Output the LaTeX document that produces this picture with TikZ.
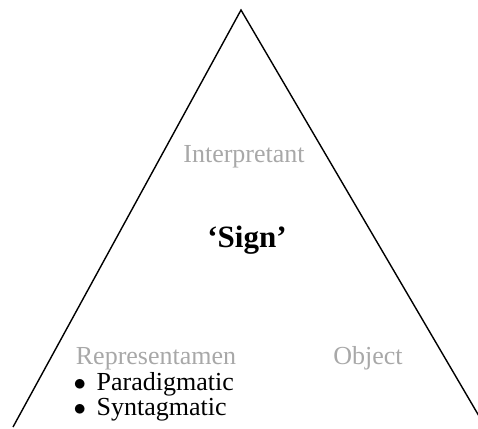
\documentclass[tikz,border=0pt]{standalone}
\usepackage{fontspec}
\setmainfont{Liberation Serif}
\usepackage{tikz}
\definecolor{roleink}{RGB}{168,168,168}
\tikzset{
  role/.style={text=roleink, font=\fontsize{26}{30}\selectfont, inner sep=0pt, anchor=base},
  item/.style={font=\fontsize{26}{30}\selectfont, inner sep=0pt, anchor=base west},
}

\begin{document}
\begin{tikzpicture}[x=1pt, y=-1pt]
  \useasboundingbox (0,0) rectangle (478,428);
  \clip (0,0) rectangle (478,428);
  % triangle
  \coordinate (apex) at (241,10);
  \coordinate (leftfoot) at (13,427);
  \coordinate (rightfoot) at (486,428);
  \draw[line width=1.4pt, line join=miter] (leftfoot) -- (apex) -- (rightfoot);
  % corners of the sign
  \node[role] (interp) at (244,162) {Interpretant};
  \node[role] (repr) at (156,364) {Representamen};
  \node[role] (obj) at (368,364) {Object};
  % centre
  \node[inner sep=0pt, anchor=base, font=\fontsize{31}{36}\selectfont\bfseries] (sign) at (247,247) {‘Sign’};
  % axes of the representamen
  \node[item] (para) at (73.5,390) {$\bullet$\hspace{10.5pt}Paradigmatic};
  \node[item] (synt) at (73.5,415) {$\bullet$\hspace{10.5pt}Syntagmatic};
\end{tikzpicture}
\end{document}
